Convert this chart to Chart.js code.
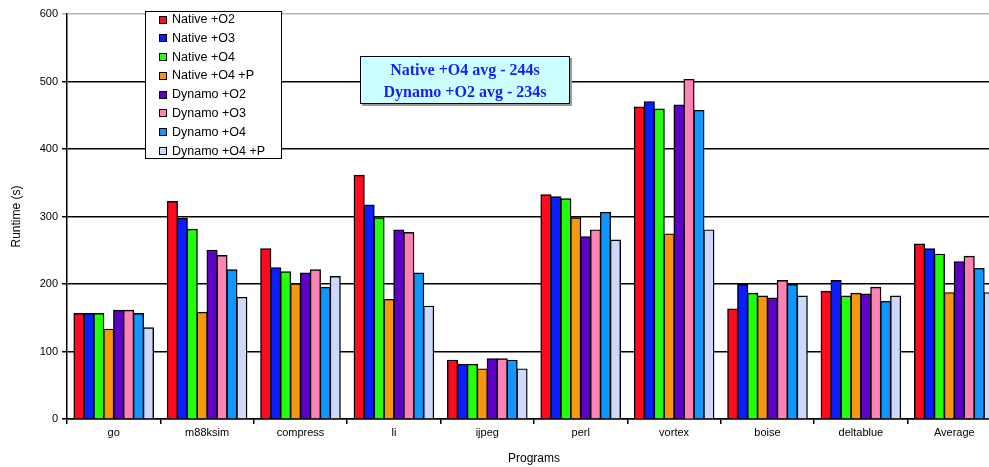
<!DOCTYPE html>
<html lang="en">
<head>
<meta charset="UTF-8">
<title>Runtime per program</title>
<script src="https://cdn.jsdelivr.net/npm/chart.js"></script>
<style>
    body {
        margin: 0;
        width: 989px;
        height: 467px;
        overflow: hidden;
        background: #fff;
        font-family: 'Liberation Sans', Arial, sans-serif;
    }

    .wrap {
        position: absolute;
        left: 0;
        top: 0;
        width: 1001px;
        height: 467px;
    }

    /* legend sits inside the plot, like the original */
    .legend {
        position: absolute;
        left: 145px;
        top: 11px;
        width: 135px;
        height: 146px;
        border: 1.5px solid #000;
        background: #fff;
    }

    .legend div {
        height: 18.8px;
        line-height: 18.8px;
        font-size: 12.5px;
        color: #000;
        position: relative;
        top: -2px;
        padding-left: 26px;
    }

    .legend span {
        position: absolute;
        left: 13px;
        top: 5.5px;
        width: 6px;
        height: 6px;
        border: 1px solid #000;
    }

    .note {
        position: absolute;
        left: 360px;
        top: 56px;
        width: 210px;
        height: 48px;
        border: 1.5px solid #000;
        background: #ccffff;
        box-shadow: 2px 2px 0 #999;
        font-family: 'Liberation Serif', 'Times New Roman', serif;
        font-weight: bold;
        font-size: 16px;
        color: #1a1aff;
        text-align: center;
        line-height: 21.5px;
        padding-top: 2px;
        box-sizing: border-box;
    }
</style>
</head>
<body>
<div class="wrap">
    <canvas id="runtimeChart"></canvas>
</div>
<div class="legend" id="legend"></div>
<div class="note">Native +O4 avg - 244s<br>Dynamo +O2 avg - 234s</div>

<script>
    const programs = ['go', 'm88ksim', 'compress', 'li', 'ijpeg', 'perl', 'vortex', 'boise', 'deltablue', 'Average'];

    const seriesNames = ['Native +O2', 'Native +O3', 'Native +O4', 'Native +O4 +P',
        'Dynamo +O2', 'Dynamo +O3', 'Dynamo +O4', 'Dynamo +O4 +P'];

    const nativeO2 = [156, 322, 252, 361, 87, 332, 462, 163, 189, 259];
    const nativeO3 = [156, 297, 224, 317, 81, 329, 470, 199, 205, 252];
    const nativeO4 = [156, 281, 218, 298, 81, 326, 459, 186, 182, 244];
    const nativeO4P = [133, 158, 200, 177, 74, 298, 274, 182, 186, 187];
    const dynamoO2 = [161, 250, 216, 280, 89, 270, 465, 179, 185, 233];
    const dynamoO3 = [161, 242, 221, 276, 89, 280, 503, 205, 195, 241];
    const dynamoO4 = [156, 221, 195, 216, 87, 306, 457, 199, 174, 223];
    const dynamoO4P = [135, 180, 211, 167, 74, 265, 280, 182, 182, 187];

    const yTicks = [0, 100, 200, 300, 400, 500, 600];

    const seriesValues = [nativeO2, nativeO3, nativeO4, nativeO4P, dynamoO2, dynamoO3, dynamoO4, dynamoO4P];
    const seriesColors = ['#ff0a1e', '#0a1eff', '#22ff0a', '#f7960f', '#5f00c8', '#ff82b4', '#0f96ff', '#cdd8fa'];

    // build the legend box from the same arrays
    const legendBox = document.getElementById('legend');
    seriesNames.forEach((name, i) => {
        const row = document.createElement('div');
        row.innerHTML = '<span style="background:' + seriesColors[i] + '"></span>' + name;
        legendBox.appendChild(row);
    });

    const ctx = document.getElementById('runtimeChart').getContext('2d');
    new Chart(ctx, {
        type: 'bar',
        data: {
            labels: programs,
            datasets: seriesNames.map((name, i) => ({
                label: name,
                data: seriesValues[i],
                backgroundColor: seriesColors[i],
                borderColor: '#000',
                borderWidth: 1.4,
                inflateAmount: 0.6,
                barPercentage: 1,
                categoryPercentage: 0.85
            }))
        },
        options: {
            responsive: true,
            maintainAspectRatio: false,
            animation: false,
            layout: {
                padding: { top: 14, left: 0, right: 0, bottom: 0 }
            },
            plugins: {
                legend: { display: false },
                tooltip: { enabled: false }
            },
            scales: {
                x: {
                    grid: {
                        offset: true,
                        drawOnChartArea: false,
                        drawTicks: true,
                        tickLength: 5,
                        color: '#000',
                        lineWidth: 1.5
                    },
                    border: { color: '#000', width: 1.5 },
                    ticks: {
                        color: '#000',
                        font: { family: 'Liberation Sans', size: 11 },
                        padding: 2,
                        maxRotation: 0,
                        autoSkip: false
                    },
                    title: {
                        display: true,
                        text: 'Programs',
                        color: '#000',
                        font: { family: 'Liberation Sans', size: 12 },
                        padding: { top: 0, bottom: 1 }
                    },
                    afterFit: (scale) => { scale.height = 48; }
                },
                y: {
                    min: 0,
                    max: 600,
                    afterBuildTicks: (scale) => {
                        scale.ticks = yTicks.map(v => ({ value: v }));
                    },
                    grid: {
                        color: (c) => (c.tick && c.tick.value === 600) ? '#a8b8c8' : '#000',
                        lineWidth: 1.5,
                        tickLength: 5
                    },
                    border: { color: '#000', width: 1.5 },
                    ticks: {
                        color: '#000',
                        font: { family: 'Liberation Sans', size: 11 },
                        padding: 4
                    },
                    title: {
                        display: true,
                        text: 'Runtime (s)',
                        color: '#000',
                        font: { family: 'Liberation Sans', size: 12 },
                        padding: { top: 9 }
                    },
                    afterFit: (scale) => { scale.width = 67; }
                }
            }
        }
    });
</script>
</body>
</html>
